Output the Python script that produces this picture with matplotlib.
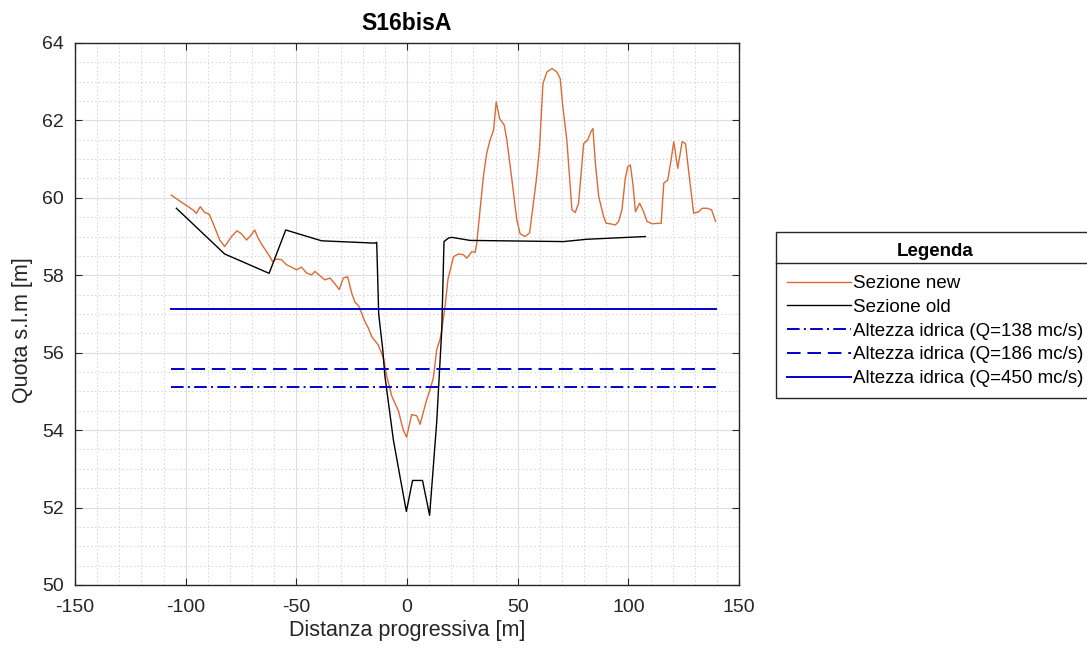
import numpy as np
import matplotlib
matplotlib.use("Agg")
import matplotlib.pyplot as plt
from matplotlib.lines import Line2D
from matplotlib.ticker import MultipleLocator

plt.rcParams['font.family'] = ['Liberation Sans', 'DejaVu Sans']
plt.rcParams['axes.unicode_minus'] = False

# sezione rilevata (new)
x_new = [-106.5, -101.2, -96.7, -95.2, -93.4, -91.4, -89.4, -87.6, -84.6, -82.4,
         -79.3, -76.8, -74.8, -72.5, -71.0, -68.8, -67.3, -65.0, -62.7, -60.8,
         -59.0, -56.7, -54.4, -52.2, -49.9, -47.7, -45.4, -43.1, -41.6, -39.4,
         -37.1, -34.8, -32.6, -30.6, -28.8, -26.8, -25.0, -23.5, -22.0, -20.5,
         -19.0, -17.5, -16.0, -13.0, -10.7, -9.2, -6.9, -3.9, -1.7, -0.2,
         2.1, 4.4, 5.9, 8.9, 10.4, 11.9, 13.4, 14.9, 15.7, 17.2,
         18.5, 21.0, 23.2, 25.5, 27.0, 29.3, 30.8, 31.5, 33.0, 34.5,
         36.0, 37.5, 39.1, 40.3, 41.8, 43.9, 45.1, 47.4, 49.6, 51.1,
         53.4, 55.4, 56.9, 58.4, 59.9, 61.4, 63.2, 65.5, 67.7, 69.2,
         70.4, 72.2, 74.5, 76.0, 77.5, 79.8, 81.6, 83.1, 84.0, 85.1,
         86.6, 88.8, 90.0, 91.8, 94.1, 95.6, 97.1, 98.6, 99.7, 100.9,
         102.1, 103.2, 105.1, 106.9, 108.4, 110.7, 112.9, 114.8, 116.0, 117.8,
         119.3, 120.5, 122.3, 124.3, 125.8, 127.7, 129.5, 131.8, 133.3, 135.6,
         137.6, 139.4]
y_new = [60.07, 59.86, 59.69, 59.60, 59.77, 59.62, 59.58, 59.34, 58.91, 58.74,
         59.00, 59.15, 59.07, 58.91, 59.00, 59.17, 58.96, 58.74, 58.55, 58.36,
         58.42, 58.40, 58.27, 58.21, 58.14, 58.21, 58.06, 58.01, 58.10, 57.99,
         57.88, 57.93, 57.78, 57.63, 57.93, 57.96, 57.54, 57.30, 57.22, 57.02,
         56.80, 56.64, 56.42, 56.20, 55.87, 55.40, 54.88, 54.50, 54.00, 53.82,
         54.40, 54.37, 54.15, 54.79, 55.05, 55.35, 56.08, 56.34, 56.60, 57.20,
         57.90, 58.48, 58.55, 58.53, 58.44, 58.61, 58.59, 58.83, 59.69, 60.55,
         61.15, 61.49, 61.75, 62.48, 62.05, 61.88, 61.49, 60.46, 59.43, 59.07,
         59.00, 59.10, 59.77, 60.46, 61.32, 62.95, 63.25, 63.34, 63.25, 63.08,
         62.35, 61.49, 59.69, 59.62, 59.86, 61.40, 61.49, 61.71, 61.79, 60.89,
         60.03, 59.52, 59.34, 59.33, 59.30, 59.39, 59.69, 60.50, 60.80, 60.85,
         60.33, 59.64, 59.86, 59.64, 59.39, 59.33, 59.34, 59.34, 60.38, 60.46,
         60.98, 61.45, 60.76, 61.45, 61.40, 60.46, 59.60, 59.64, 59.73, 59.73,
         59.69, 59.39]

# sezione di progetto (old)
x_old = [-104.2, -82.4, -62.3, -54.8, -38.6, -14.5, -13.7, -12.8, -11.0, -10.0,
         -6.2, -3.5, -0.3, 2.5, 7.0, 10.2, 13.4, 15.7, 16.7, 18.7,
         20.2, 28.5, 70.7, 81.3, 107.7]
y_old = [59.73, 58.55, 58.05, 59.17, 58.89, 58.83, 58.85, 57.00, 56.10, 55.40,
         53.76, 52.90, 51.90, 52.70, 52.70, 51.80, 54.20, 56.60, 58.87, 58.96,
         58.98, 58.90, 58.87, 58.93, 59.00]

# livelli idrici
x_wl = [-106.5, 139.4]
wl_138 = 55.12
wl_186 = 55.59
wl_450 = 57.13

fig = plt.figure(figsize=(10.87, 6.51), dpi=100)
ax = fig.add_axes([0.0690, 0.1014, 0.6109, 0.8326])

ax.plot(x_new, y_new, color='#DC6A35', lw=1.0, label='Sezione new')
ax.plot(x_old, y_old, color='black', lw=1.0, label='Sezione old')
ax.plot(x_wl, [wl_138, wl_138], color='#0000CC', lw=1.4,
        linestyle=(0, (6.5, 2.2, 1.0, 2.2)), label='Altezza idrica (Q=138 mc/s)')
ax.plot(x_wl, [wl_186, wl_186], color='#0000CC', lw=1.4,
        linestyle=(0, (7.0, 3.5)), label='Altezza idrica (Q=186 mc/s)')
ax.plot(x_wl, [wl_450, wl_450], color='#0000CC', lw=1.4, label='Altezza idrica (Q=450 mc/s)')

ax.set_xlim(-150, 150)
ax.set_ylim(50, 64)
ax.xaxis.set_major_locator(MultipleLocator(50))
ax.xaxis.set_minor_locator(MultipleLocator(10))
ax.yaxis.set_major_locator(MultipleLocator(2))
ax.yaxis.set_minor_locator(MultipleLocator(0.5))
ax.grid(True, which='major', color='#dedede', lw=0.8)
ax.grid(True, which='minor', color='#d4d4d4', lw=0.7, linestyle=(0, (1.5, 2.5)))
ax.set_axisbelow(True)
ax.tick_params(which='both', direction='in', top=True, right=True, labelsize=14,
               colors='#262626', pad=8)
ax.tick_params(axis='x', pad=10)
ax.tick_params(which='major', length=5)
ax.tick_params(which='minor', length=0)
for s in ax.spines.values():
    s.set_color('#262626')
    s.set_linewidth(1.0)

ax.set_title('S16bisA', fontsize=16.5, fontweight='bold', pad=9)
ax.set_xlabel('Distanza progressiva [m]', fontsize=15.5, color='#262626', labelpad=3)
ax.set_ylabel('Quota s.l.m [m]', fontsize=15.5, color='#262626')
ax.yaxis.set_label_coords(-0.063, 0.47)

leg = ax.legend(loc='upper left', bbox_to_anchor=(776 / 1087, 1 - 231.7 / 651),
                bbox_transform=fig.transFigure, borderaxespad=0, fontsize=13.5,
                title='Legenda', title_fontproperties={'weight': 'bold', 'size': 13.5},
                fancybox=False, edgecolor='#262626', framealpha=1,
                handlelength=3.4, handletextpad=0.1, labelspacing=0.35,
                borderpad=0.6)
leg.get_frame().set_linewidth(1.0)
leg._legend_box.sep = 11
leg.set_clip_on(False)

# linea di separazione sotto il titolo della legenda
fig.canvas.draw()
r = fig.canvas.get_renderer()
fb = leg.get_frame().get_window_extent(r)
tb = leg.get_title().get_window_extent(r)
ysep = ((tb.y0 + tb.y1) / 2 - 11.7) / fig.bbox.height
fig.add_artist(Line2D([fb.x0 / fig.bbox.width, fb.x1 / fig.bbox.width], [ysep, ysep],
                      transform=fig.transFigure, color='#262626', lw=1.0))

fig.savefig('out.png', dpi=100)
